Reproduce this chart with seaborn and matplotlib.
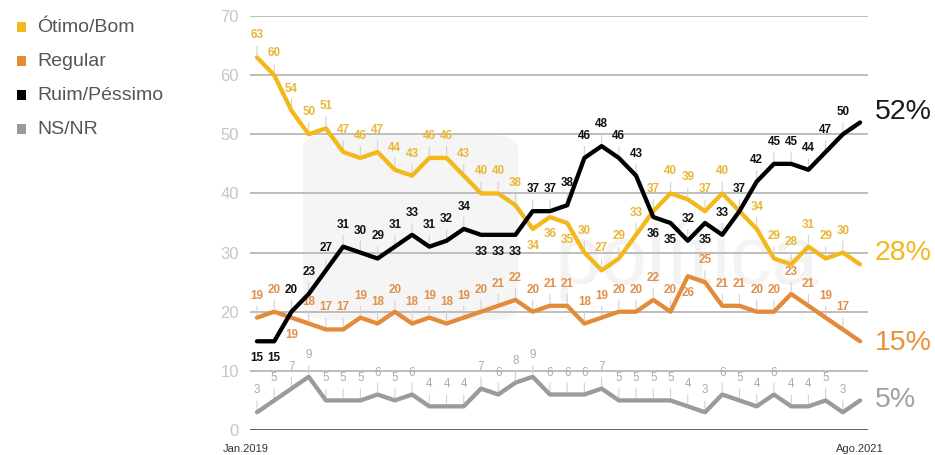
import matplotlib
matplotlib.use("Agg")
import matplotlib.pyplot as plt
import seaborn as sns
import pandas as pd
from matplotlib.patches import FancyBboxPatch, Rectangle

# ---------------- data ----------------
series_names = ["Ótimo/Bom", "Regular", "Ruim/Péssimo", "NS/NR"]
otimo_bom = [63, 60, 54, 50, 51, 47, 46, 47, 44, 43, 46, 46, 43, 40, 40, 38, 34, 36,
             35, 30, 27, 29, 33, 37, 40, 39, 37, 40, 37, 34, 29, 28, 31, 29, 30, 28]
regular = [19, 20, 19, 18, 17, 17, 19, 18, 20, 18, 19, 18, 19, 20, 21, 22, 20, 21,
           21, 18, 19, 20, 20, 22, 20, 26, 25, 21, 21, 20, 20, 23, 21, 19, 17, 15]
ruim_pessimo = [15, 15, 20, 23, 27, 31, 30, 29, 31, 33, 31, 32, 34, 33, 33, 33, 37, 37,
                38, 46, 48, 46, 43, 36, 35, 32, 35, 33, 37, 42, 45, 45, 44, 47, 50, 52]
ns_nr = [3, 5, 7, 9, 5, 5, 5, 6, 5, 6, 4, 4, 4, 7, 6, 8, 9, 6,
         6, 6, 7, 5, 5, 5, 5, 4, 3, 6, 5, 4, 6, 4, 4, 5, 3, 5]
first_label = "Jan.2019"
last_label = "Ago.2021"
y_ticks = [0, 10, 20, 30, 40, 50, 60, 70]

# labels that are hidden (last point shown as big end label / unlabeled)
hidden = {"Ótimo/Bom": [28, 35], "Regular": [35], "Ruim/Péssimo": [35], "NS/NR": [35]}
# labels placed below the point
below = {"Ótimo/Bom": [16, 17, 18], "Regular": [2, 25],
         "Ruim/Péssimo": [0, 1, 13, 14, 15, 23, 24, 26], "NS/NR": []}

# ---------------- style ----------------
line_col = {"Ótimo/Bom": "#F2B81C", "Regular": "#E38B3A",
            "Ruim/Péssimo": "#000000", "NS/NR": "#9B9B9B"}
lab_col = {"Ótimo/Bom": "#E9B637", "Regular": "#E0904A",
           "Ruim/Péssimo": "#111111", "NS/NR": "#ABABAB"}
end_col = {"Ótimo/Bom": "#F2B81C", "Regular": "#E8903A",
           "Ruim/Péssimo": "#1A1A1A", "NS/NR": "#A0A0A0"}

sns.set_style("white")
plt.rcParams["font.family"] = ["Liberation Sans", "DejaVu Sans"]

values = {"Ótimo/Bom": otimo_bom, "Regular": regular,
          "Ruim/Péssimo": ruim_pessimo, "NS/NR": ns_nr}
n = len(otimo_bom)
rows = []
for s in series_names:
    for i, v in enumerate(values[s]):
        rows.append({"idx": i, "value": v, "series": s})
df = pd.DataFrame(rows)

W, H = 935, 455
fig = plt.figure(figsize=(W / 100, H / 100), dpi=100)
ax = fig.add_axes([250 / W, 25 / H, 618 / W, 414 / H])
ax.set_axisbelow(True)

# faint watermark behind everything
wm = FancyBboxPatch((303 / W, (H - 320) / H), 215 / W, 185 / H,
                    boxstyle="round,pad=0,rounding_size=0.03",
                    transform=fig.transFigure, facecolor="#f5f5f5",
                    edgecolor="none", zorder=0.1)
ax.add_patch(wm)
ax.text(555 / W, (H - 262) / H, "política", transform=fig.transFigure,
        fontsize=60, color="#f3f3f3", ha="left", va="center", zorder=0.2)

draw_order = ["NS/NR", "Regular", "Ótimo/Bom", "Ruim/Péssimo"]
for s in draw_order:
    sns.lineplot(data=df[df.series == s], x="idx", y="value", ax=ax,
                 color=line_col[s], linewidth=3.1, legend=False, zorder=4)

ax.set_xlim(-0.406, 35.46)
ax.set_ylim(0, 70)
ax.set_yticks(y_ticks)
ax.set_yticklabels([str(t) for t in y_ticks])
ax.yaxis.grid(True, color="#b9b9b9", linewidth=1.3)
ax.xaxis.grid(False)
for sp in ax.spines.values():
    sp.set_visible(False)
ax.axhline(0, color="#666666", linewidth=1.4, zorder=2)
ax.set_xticks(range(n))
ax.tick_params(axis="x", direction="in", length=5, width=0.9, color="#777777",
               labelbottom=False)
ax.tick_params(axis="y", length=0, pad=8, labelsize=12, labelcolor="#c6c6c6")
ax.set_xlabel("")
ax.set_ylabel("")

# data labels
px = 0.72  # pixels -> points at dpi 100
for s in series_names:
    weight = "normal" if s == "NS/NR" else "bold"
    for i, v in enumerate(values[s]):
        if i in hidden[s]:
            continue
        off = -17 if i in below[s] else 22
        ax.annotate(str(v), xy=(i, v), xytext=(0, off * px), textcoords="offset points",
                    ha="center", va="center", fontsize=8.4, color=lab_col[s],
                    fontweight=weight, zorder=3,
                    arrowprops=dict(arrowstyle="-", color="#d2d2d2", lw=0.8,
                                    shrinkA=1, shrinkB=2) if off > 0 else None)

# x end labels
fig.text(246 / W, (H - 449) / H, first_label, ha="center", va="center",
         fontsize=8, color="#333333")
fig.text(860 / W, (H - 449) / H, last_label, ha="center", va="center",
         fontsize=8, color="#333333")

# end labels
end_y = {"Ruim/Péssimo": 112, "Ótimo/Bom": 253, "Regular": 343, "NS/NR": 400}
for s in series_names:
    fig.text(875 / W, (H - end_y[s]) / H, f"{values[s][-1]}%", ha="left",
             va="center", fontsize=20.5, color=end_col[s])

# legend
leg_y = [27, 61, 95, 129]
for s, yy in zip(series_names, leg_y):
    fig.patches.append(Rectangle((17 / W, (H - yy - 4.5) / H), 9 / W, 9 / H,
                                 transform=fig.transFigure, facecolor=line_col[s],
                                 edgecolor="none"))
    fig.text(37 / W, (H - yy) / H, s, ha="left", va="center", fontsize=14,
             color="#555555")

fig.savefig("out.png", dpi=100)
